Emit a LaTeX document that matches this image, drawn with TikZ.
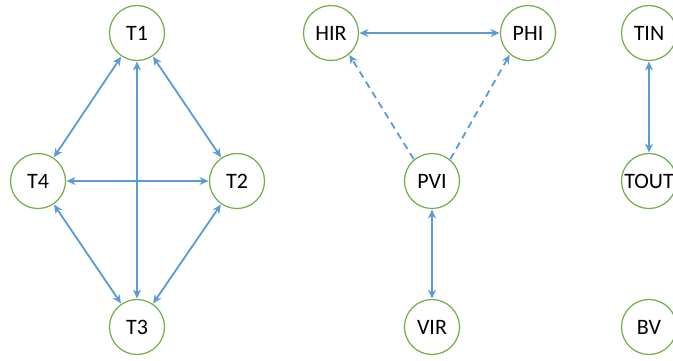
\documentclass[tikz,border=0pt]{standalone}
\usepackage{fontspec}
\setmainfont{Carlito}
\usetikzlibrary{arrows.meta}
\definecolor{ngreen}{HTML}{70AD47}
\definecolor{lblue}{HTML}{5B9BD5}
\begin{document}
\begin{tikzpicture}[x=1bp,y=-1bp,
  st/.style={circle,draw=ngreen,line width=1.2bp,minimum size=55bp,inner sep=0pt,outer sep=1bp,font=\fontsize{22bp}{25bp}\selectfont,text=black},
  link/.style={draw=lblue,line width=1.8bp,{Stealth[length=9bp,width=8bp]}-{Stealth[length=9bp,width=8bp]}},
  dlink/.style={draw=lblue,line width=1.8bp,dash pattern=on 7bp off 5bp,-{Stealth[length=9bp,width=8bp]}}]
\useasboundingbox (0,0) rectangle (673,360);
\node[st] (T1) at (137,33) {T1};
\node[st] (T4) at (38,181) {T4};
\node[st] (T2) at (237,181) {T2};
\node[st] (T3) at (137,327) {T3};
\node[st] (HIR) at (331,33) {HIR};
\node[st] (PHI) at (528,33) {PHI};
\node[st] (PVI) at (432,181) {PVI};
\node[st] (VIR) at (432,327) {VIR};
\node[st] (TIN) at (649,33) {TIN};
\node[st] (TOUT) at (649,181) {TOUT};
\node[st] (BV) at (649,327) {BV};
\draw[link] (T1) -- (T4);
\draw[link] (T1) -- (T2);
\draw[link] (T1) -- (T3);
\draw[link] (T4) -- (T2);
\draw[link] (T4) -- (T3);
\draw[link] (T2) -- (T3);
\draw[link] (HIR) -- (PHI);
\draw[dlink] (PVI.130) -- (HIR.-50);
\draw[dlink] (PVI.50) -- (PHI.-130);
\draw[link] (PVI) -- (VIR);
\draw[link] (TIN) -- (TOUT);
\end{tikzpicture}
\end{document}
